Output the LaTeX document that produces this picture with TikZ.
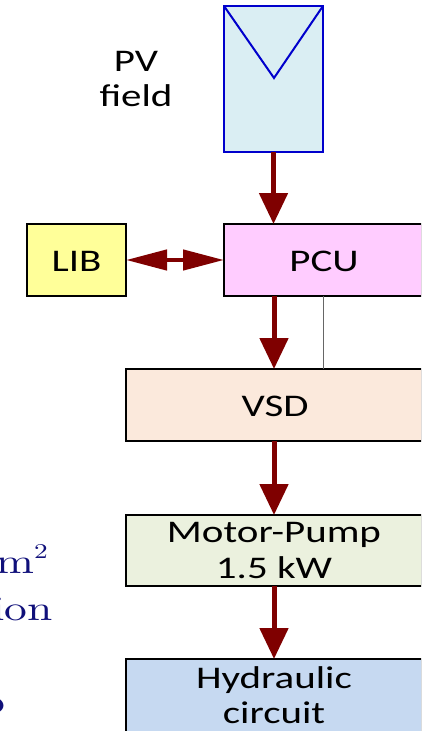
\documentclass[tikz,border=0pt]{standalone}
\usepackage{fontspec}
\usetikzlibrary{arrows.meta}
\newfontfamily\boxfont{Carlito}[FakeStretch=1.3]
\newfontfamily\serx{lmroman10-regular.otf}[FakeStretch=1.3]
\definecolor{arrowred}{HTML}{7F0000}
\definecolor{pvfill}{HTML}{DAEEF3}
\definecolor{pvblue}{HTML}{0000CC}
\definecolor{libfill}{HTML}{FFFF99}
\definecolor{pcufill}{HTML}{FFCCFF}
\definecolor{vsdfill}{HTML}{FBE9DC}
\definecolor{motfill}{HTML}{EBF1DE}
\definecolor{hydfill}{HTML}{C6D9F1}
\definecolor{navytext}{HTML}{10107A}
\tikzset{
  blk/.style={draw=black, line width=1.8pt, inner sep=0pt, outer sep=0pt},
  lbl/.style={anchor=base, inner sep=0pt, font=\boxfont\fontsize{31.5}{36}\selectfont},
  sidetxt/.style={anchor=base east, inner sep=0pt, text=navytext, font=\serx\fontsize{35}{40}\selectfont},
  arr/.style={draw=arrowred, line width=5pt, -{Triangle[length=31pt,width=28pt,fill=arrowred]}},
  darr/.style={draw=arrowred, line width=4.5pt, {Triangle[length=41pt,width=20pt,fill=arrowred]}-{Triangle[length=41pt,width=20pt,fill=arrowred]}},
}
\begin{document}
\begin{tikzpicture}[x=1pt,y=-1pt]
\useasboundingbox (0,0) rectangle (421,731);
\clip (0,0) rectangle (421,731);
% boxes
\node[blk, draw=pvblue, line width=2pt, fill=pvfill, minimum width=99pt, minimum height=146pt] (pv) at (273.5,79) {};
\coordinate (vtip) at (274,78);
\draw[pvblue, line width=2pt] (pv.north west) -- (vtip) -- (pv.north east);
\node[blk, fill=libfill, minimum width=99pt, minimum height=72pt] (lib) at (76.5,260) {};
\node[blk, fill=pcufill, minimum width=198pt, minimum height=72pt] (pcu) at (323,260) {};
\node[blk, fill=vsdfill, minimum width=296pt, minimum height=72pt] (vsd) at (274,405) {};
\node[blk, fill=motfill, minimum width=296pt, minimum height=71pt] (mot) at (274,550.5) {};
\node[blk, fill=hydfill, minimum width=296pt, minimum height=84pt] (hyd) at (274,701) {};
% labels
\node[lbl] (pvt1) at (136,71) {PV};
\node[lbl] (pvt2) at (136,106) {field};
\node[lbl] (libt) at (76.5,271) {LIB};
\node[lbl] (pcut) at (324,271) {PCU};
\node[lbl] (vsdt) at (275,416) {VSD};
\node[lbl] (mott1) at (274,542) {Motor-Pump};
\node[lbl] (mott2) at (274,578) {1.5 kW};
\node[lbl] (hydt1) at (274,688) {Hydraulic};
\node[lbl] (hydt2) at (274,723) {circuit};
% side text fragments
\node[sidetxt] (s1) at (35,573) {m};
\node[anchor=base west, inner sep=0pt, text=navytext, font=\serx\fontsize{21}{24}\selectfont] (s1b) at (34,558) {2};
\node[sidetxt] (s2) at (53,620) {ion};
\node[sidetxt] (s3) at (5,713) {o};
% connectors
\draw[arr] (pv.south) -- (pv.south |- pcu.north);
\draw[darr] (lib.east) -- (pcu.west);
\draw[arr] (vsd.north |- pcu.south) -- (vsd.north);
\draw[draw=black!60, line width=0.9pt] (pcu.south) -- (pcu.south |- vsd.north);
\draw[arr] (vsd.south) -- (mot.north);
\draw[arr] (mot.south) -- (hyd.north);
\end{tikzpicture}
\end{document}
